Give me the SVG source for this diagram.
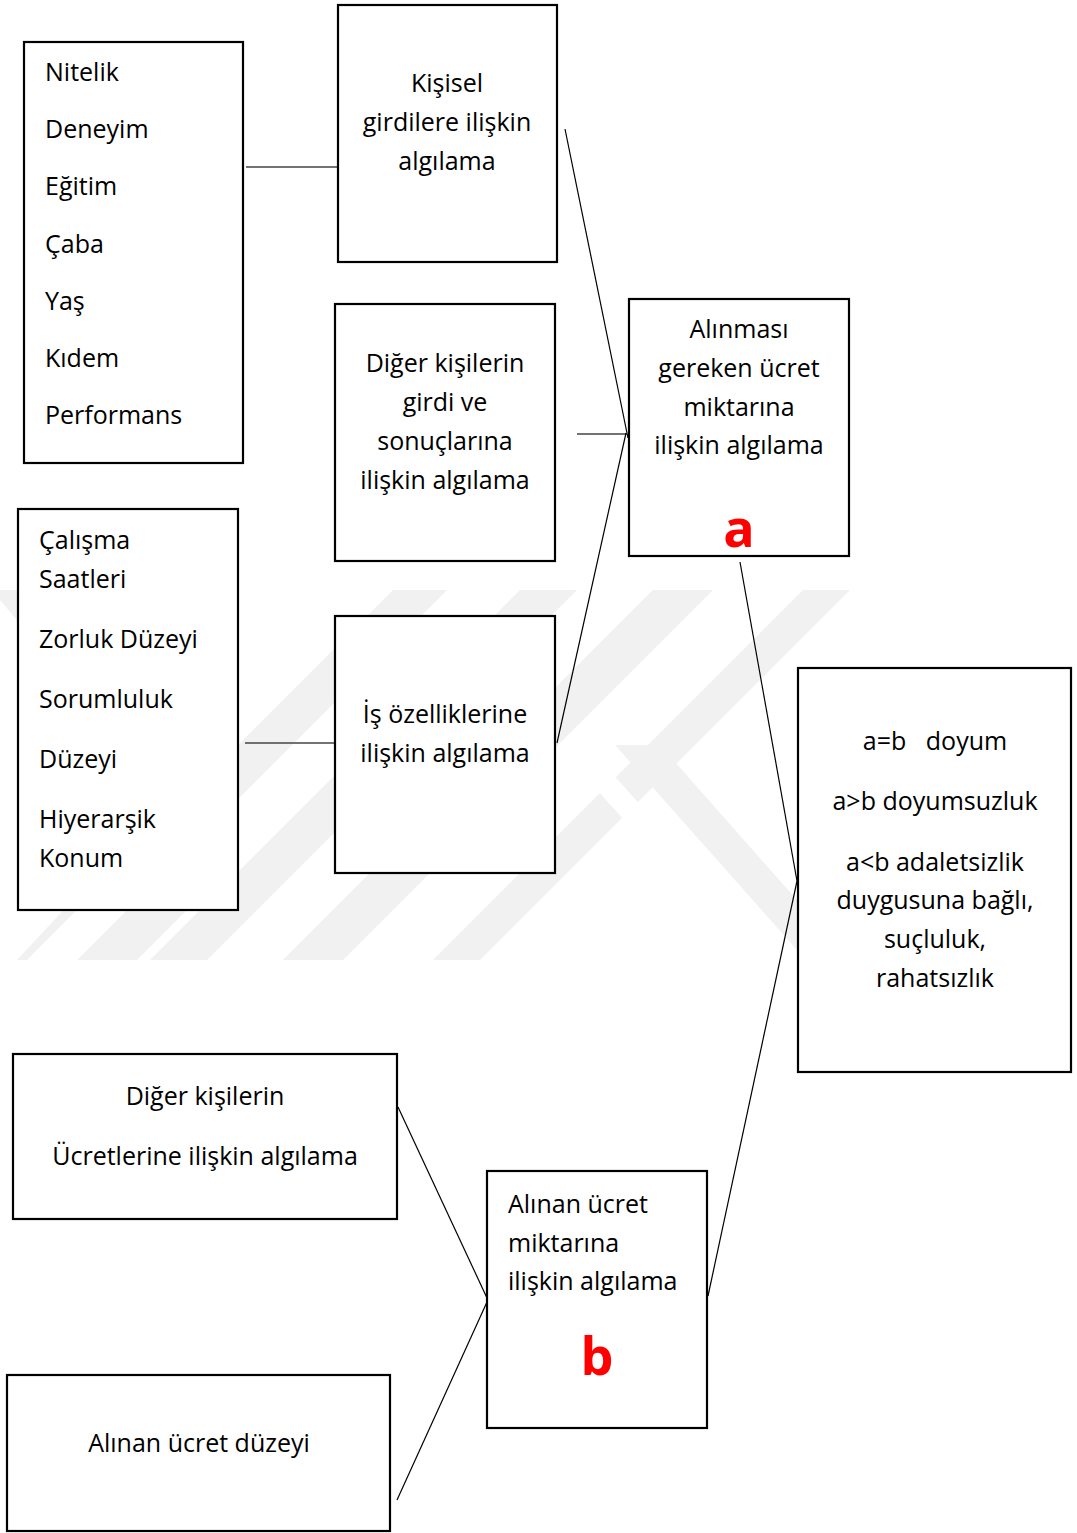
<svg xmlns="http://www.w3.org/2000/svg" width="1077" height="1533" viewBox="0 0 1077 1533">
  <defs>
    <style>
      .box { fill: #ffffff; stroke: #000000; stroke-width: 2.2; }
      .t { font-family: "Open Sans", "Liberation Sans", sans-serif; font-size: 25px; fill: #000000; }
      .c { text-anchor: middle; }
      .mark { font-family: "Open Sans", "Liberation Sans", sans-serif; font-weight: bold; fill: #ff0000; text-anchor: middle; }
      .link { fill: none; stroke: #000000; stroke-width: 1.2; }
      .hlink { fill: none; stroke: #444444; stroke-width: 1.4; }
      .wm { fill: #f1f1f1; }
      .wm-gap { fill: #ffffff; }
    </style>
  </defs>

  <rect width="1077" height="1533" fill="#ffffff"/>

  <!-- faint background emblem: diagonal bands -->
  <g id="watermark">
    <polygon class="wm" points="393,590 447,590 207,830 153,830"/>
    <polygon class="wm" points="520,590 577,590 207,960 150,960"/>
    <polygon class="wm" points="653,590 713,590 343,960 283,960"/>
    <polygon class="wm" points="803,590 850,590 480,960 433,960"/>
    <polygon class="wm" points="0,590 30,590 115,700 85,700 0,600"/>
    <polygon class="wm" points="150,887 210,887 137,960 77,960"/>
    <polygon class="wm" points="85,887 100,887 27,960 17,960"/>
    <polygon class="wm-gap" points="570,760 600,760 780,960 750,960"/>
    <polygon class="wm" points="615,745 660,745 797,900 797,950"/>
  </g>

  <!-- connectors -->
  <g id="connectors">
    <line class="hlink" x1="246" y1="167" x2="338" y2="167"/>
    <line class="hlink" x1="245" y1="743" x2="334" y2="743"/>
    <line class="hlink" x1="577" y1="434" x2="627" y2="434"/>
    <line class="link" x1="565" y1="129" x2="628" y2="438"/>
    <line class="link" x1="557" y1="743" x2="626" y2="433"/>
    <line class="link" x1="740" y1="562" x2="797" y2="881"/>
    <line class="link" x1="797" y1="881" x2="708" y2="1296"/>
    <line class="link" x1="398" y1="1107" x2="487" y2="1298"/>
    <line class="link" x1="487" y1="1302" x2="397" y2="1500"/>
  </g>

  <!-- personal inputs list -->
  <g id="personal-inputs">
    <rect class="box" x="24" y="42" width="219" height="421"/>
    <text class="t" x="45" y="81">Nitelik</text>
    <text class="t" x="45" y="138">Deneyim</text>
    <text class="t" x="45" y="195">Eğitim</text>
    <text class="t" x="45" y="253">Çaba</text>
    <text class="t" x="45" y="310">Yaş</text>
    <text class="t" x="45" y="367">Kıdem</text>
    <text class="t" x="45" y="424">Performans</text>
  </g>

  <g id="personal-perception">
    <rect class="box" x="338" y="5" width="219" height="257"/>
    <text class="t c" x="447" y="92">Kişisel</text>
    <text class="t c" x="447" y="131">girdilere ilişkin</text>
    <text class="t c" x="447" y="170">algılama</text>
  </g>

  <g id="others-perception">
    <rect class="box" x="335" y="304" width="220" height="257"/>
    <text class="t c" x="445" y="372">Diğer kişilerin</text>
    <text class="t c" x="445" y="411">girdi ve</text>
    <text class="t c" x="445" y="450">sonuçlarına</text>
    <text class="t c" x="445" y="489">ilişkin algılama</text>
  </g>

  <g id="deserved-pay">
    <rect class="box" x="629" y="299" width="220" height="257"/>
    <text class="t c" x="739" y="338">Alınması</text>
    <text class="t c" x="739" y="377">gereken ücret</text>
    <text class="t c" x="739" y="416">miktarına</text>
    <text class="t c" x="739" y="454">ilişkin algılama</text>
    <text class="mark" x="739" y="547" font-size="52">a</text>
  </g>

  <!-- job characteristics list -->
  <g id="job-factors">
    <rect class="box" x="18" y="509" width="220" height="401"/>
    <text class="t" x="39" y="549">Çalışma</text>
    <text class="t" x="39" y="588">Saatleri</text>
    <text class="t" x="39" y="648">Zorluk Düzeyi</text>
    <text class="t" x="39" y="708">Sorumluluk</text>
    <text class="t" x="39" y="768">Düzeyi</text>
    <text class="t" x="39" y="828">Hiyerarşik</text>
    <text class="t" x="39" y="867">Konum</text>
  </g>

  <g id="job-perception">
    <rect class="box" x="335" y="616" width="220" height="257"/>
    <text class="t c" x="445" y="723">İş özelliklerine</text>
    <text class="t c" x="445" y="762">ilişkin algılama</text>
  </g>

  <g id="outcome">
    <rect class="box" x="798" y="668" width="273" height="404"/>
    <text class="t c" x="935" y="750" xml:space="preserve">a=b   doyum</text>
    <text class="t c" x="935" y="810">a&gt;b doyumsuzluk</text>
    <text class="t c" x="935" y="871">a&lt;b adaletsizlik</text>
    <text class="t c" x="935" y="909">duygusuna bağlı,</text>
    <text class="t c" x="935" y="948">suçluluk,</text>
    <text class="t c" x="935" y="987">rahatsızlık</text>
  </g>

  <g id="others-pay">
    <rect class="box" x="13" y="1054" width="384" height="165"/>
    <text class="t c" x="205" y="1105">Diğer kişilerin</text>
    <text class="t c" x="205" y="1165">Ücretlerine ilişkin algılama</text>
  </g>

  <g id="received-pay">
    <rect class="box" x="487" y="1171" width="220" height="257"/>
    <text class="t" x="508" y="1213">Alınan ücret</text>
    <text class="t" x="508" y="1252">miktarına</text>
    <text class="t" x="508" y="1290">ilişkin algılama</text>
    <text class="mark" x="597" y="1375" font-size="52">b</text>
  </g>

  <g id="pay-level">
    <rect class="box" x="7" y="1375" width="383" height="156"/>
    <text class="t c" x="199" y="1452">Alınan ücret düzeyi</text>
  </g>
</svg>
